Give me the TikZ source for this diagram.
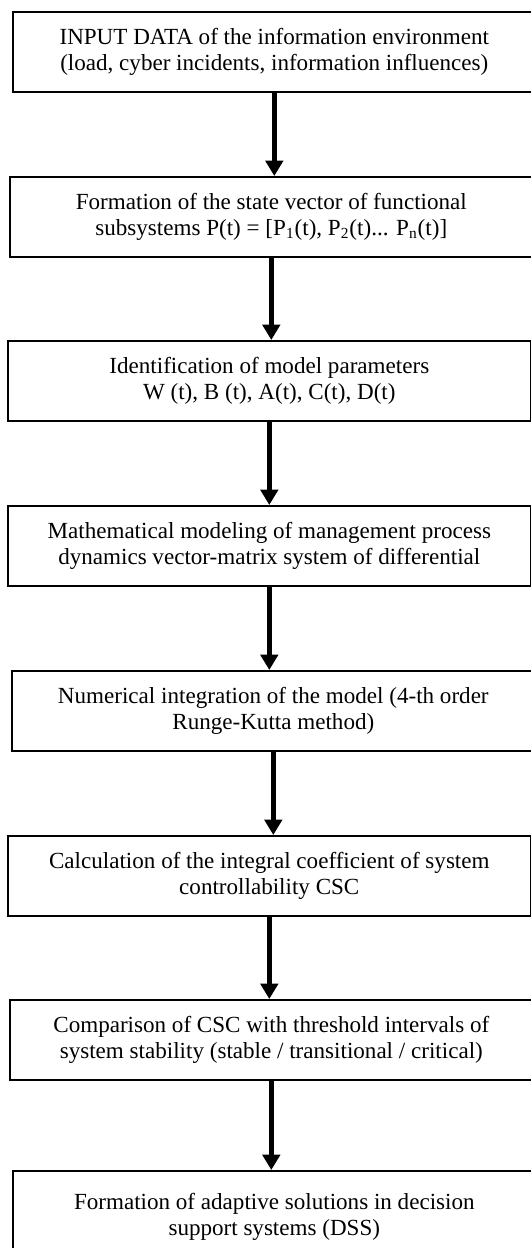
\documentclass[tikz,border=0pt]{standalone}
\usepackage{fontspec}
\setmainfont{Liberation Serif}
\usetikzlibrary{arrows.meta}

\begin{document}
\begin{tikzpicture}[x=0.52pt, y=-0.52pt, font=\fontsize{12}{13.2}\selectfont,
    stepbox/.style={draw, line width=0.8pt, align=center, anchor=north west,
      minimum width=272pt, minimum height=41.6pt, inner sep=0pt},
    flow/.style={line width=2.9pt, -{Triangle[width=9pt, length=8pt]}}]
\useasboundingbox (0,0) rectangle (531,1248);

\node[stepbox] (input) at (12,11)
    {INPUT DATA of the information environment\\(load, cyber incidents, information influences)};
\node[stepbox] (state) at (9,176)
    {Formation of the state vector of functional\\subsystems P(t) = [P\textsubscript{1}(t), P\textsubscript{2}(t)... P\textsubscript{n}(t)]};
\node[stepbox] (ident) at (7,340)
    {Identification of model parameters\\W (t), B (t), A(t), C(t), D(t)};
\node[stepbox] (model) at (7,505)
    {Mathematical modeling of management process\\dynamics vector-matrix system of differential};
\node[stepbox] (integ) at (11,670)
    {Numerical integration of the model (4-th order\\Runge-Kutta method)};
\node[stepbox] (coeff) at (7,835)
    {Calculation of the integral coefficient of system\\controllability CSC};
\node[stepbox] (compare) at (9,999)
    {Comparison of CSC with threshold intervals of\\system stability (stable / transitional / critical)};
\node[stepbox, minimum height=48pt] (dss) at (12,1170)
    {Formation of adaptive solutions in decision\\support systems (DSS)};

\draw[flow] (input.south) -- (input.south |- state.north);
\draw[flow] (state.south) -- (state.south |- ident.north);
\draw[flow] (ident.south) -- (ident.south |- model.north);
\draw[flow] (model.south) -- (model.south |- integ.north);
\draw[flow] (integ.south) -- (integ.south |- coeff.north);
\draw[flow] (coeff.south) -- (coeff.south |- compare.north);
\draw[flow] (compare.south) -- (compare.south |- dss.north);
\end{tikzpicture}
\end{document}
